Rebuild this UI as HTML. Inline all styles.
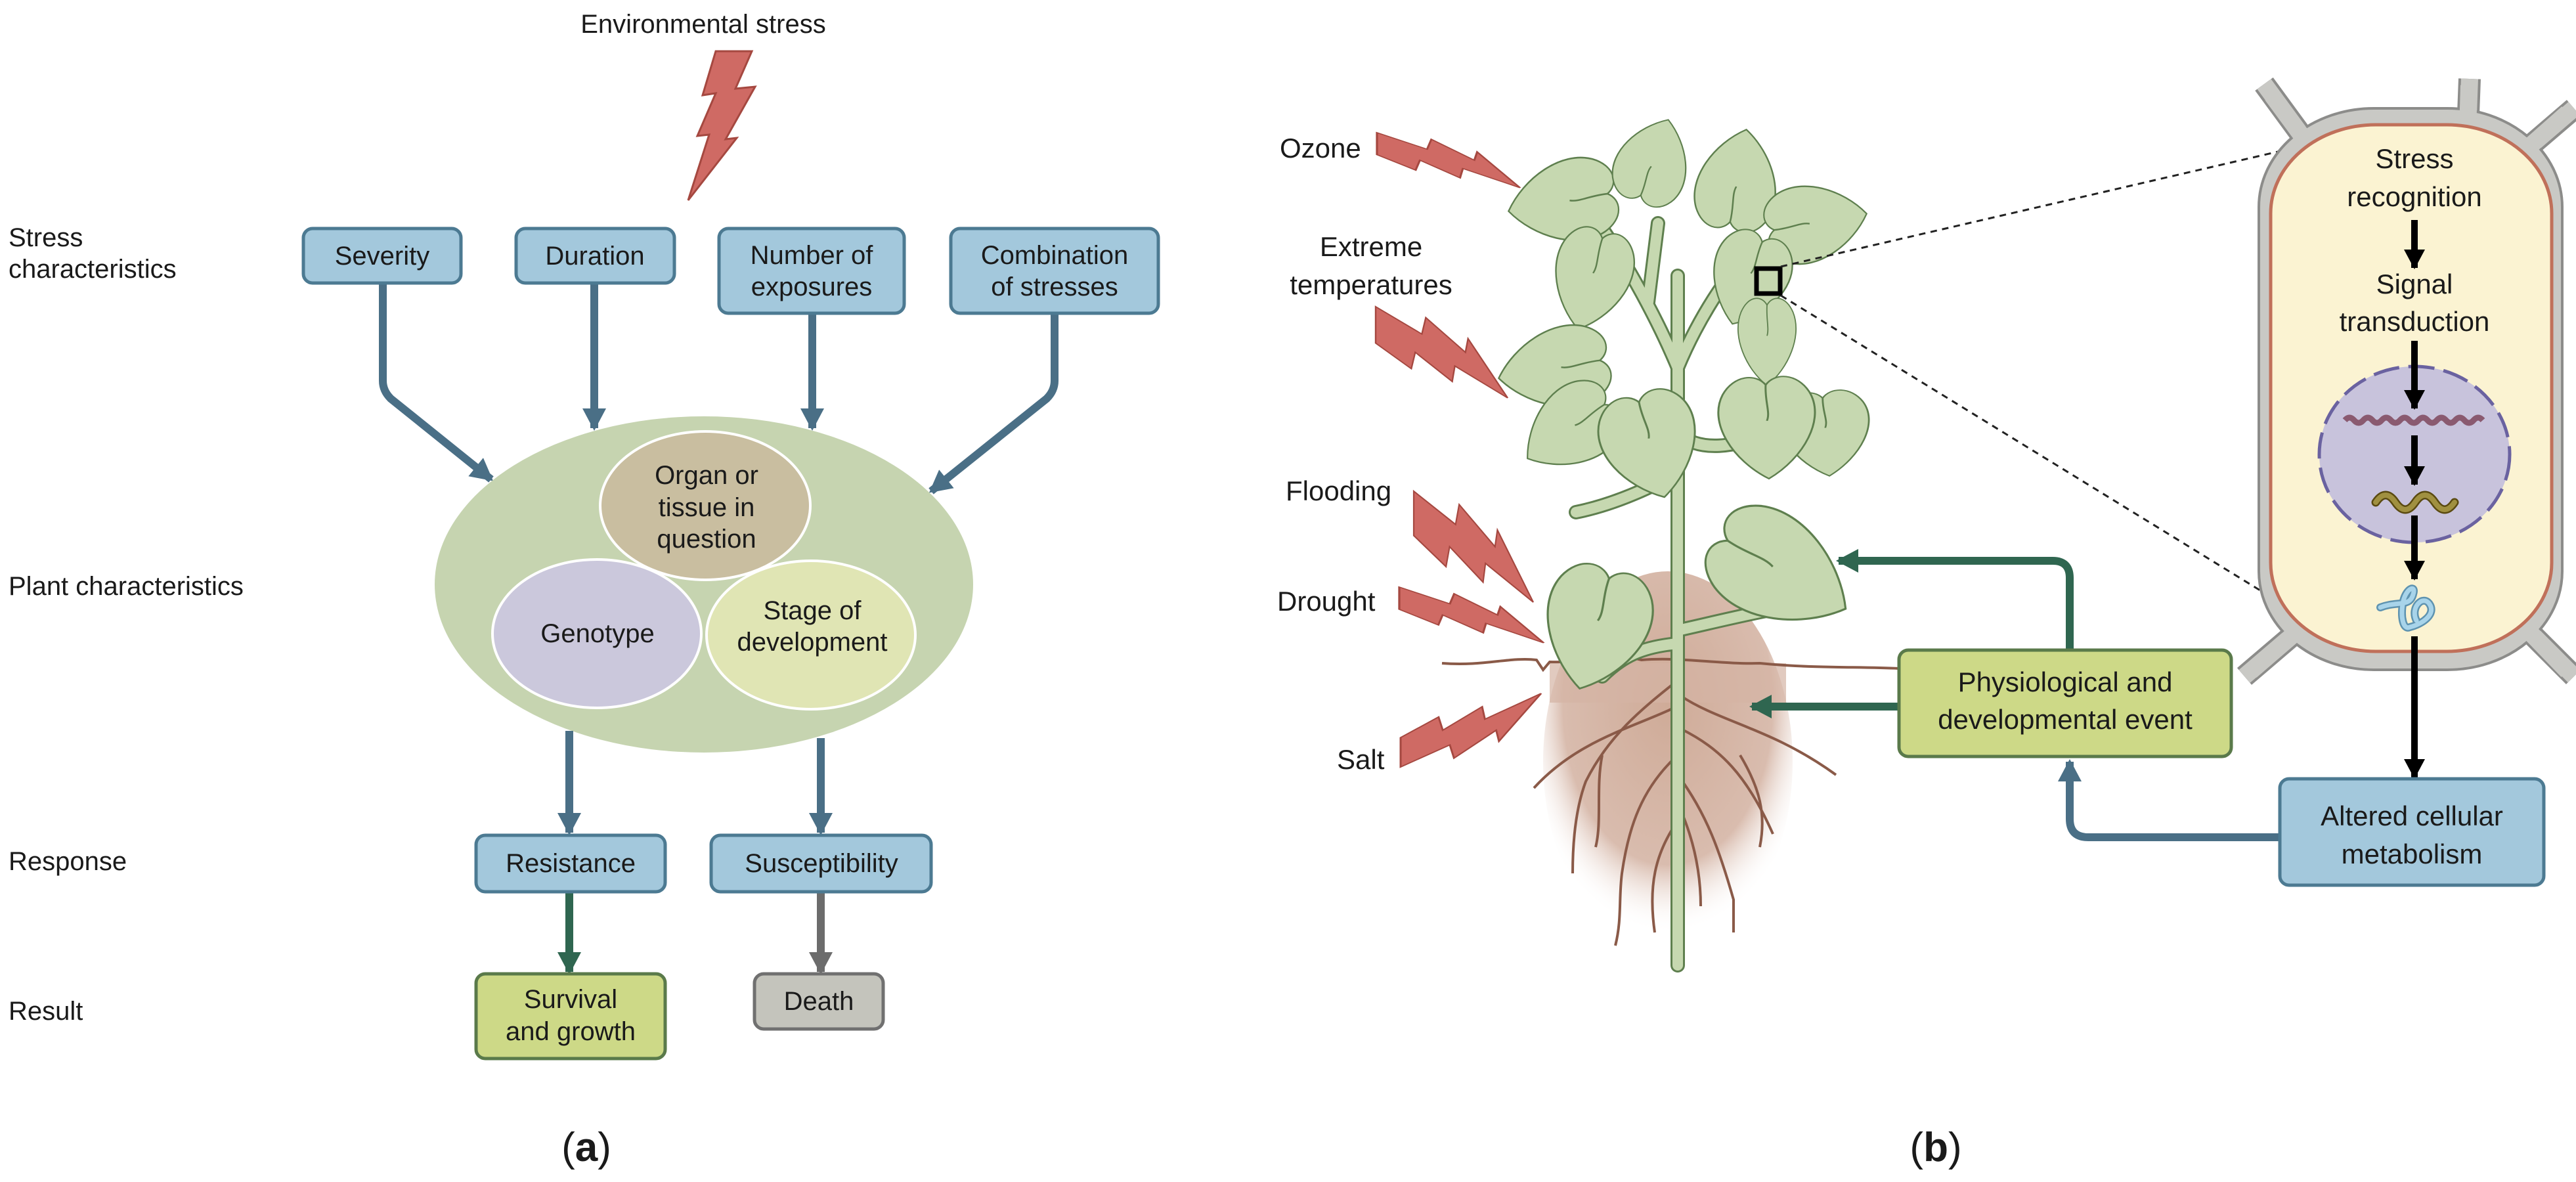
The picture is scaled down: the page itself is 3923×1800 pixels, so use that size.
<!DOCTYPE html>
<html><head><meta charset="utf-8"><style>
html,body{margin:0;padding:0;background:#fff}
svg{display:block}
text{font-family:"Liberation Sans",sans-serif;fill:#1a1a1a}
</style></head><body>
<svg width="3923" height="1800" viewBox="0 0 3923 1800" xmlns="http://www.w3.org/2000/svg">
<defs>
<marker id="ab" markerUnits="userSpaceOnUse" markerWidth="40" markerHeight="40" refX="30" refY="18" orient="auto"><path d="M0,0 L34,18 L0,36 Z" fill="#4a6f86"/></marker>
<marker id="ag" markerUnits="userSpaceOnUse" markerWidth="40" markerHeight="40" refX="30" refY="18" orient="auto"><path d="M0,0 L34,18 L0,36 Z" fill="#2f6650"/></marker>
<marker id="agr" markerUnits="userSpaceOnUse" markerWidth="40" markerHeight="40" refX="30" refY="18" orient="auto"><path d="M0,0 L34,18 L0,36 Z" fill="#6c6c6c"/></marker>
<marker id="ak" markerUnits="userSpaceOnUse" markerWidth="40" markerHeight="40" refX="28" refY="16" orient="auto"><path d="M0,0 L30,16 L0,32 Z" fill="#000"/></marker>
<path id="bolt" d="M0,0 L0.35,0.3 L0.38,0.12 L0.68,0.5 L0.7,0.35 L1,1 L0.6,0.65 L0.58,0.82 L0.3,0.5 L0.27,0.68 L0,0.4 Z"/>
<g id="leaf"><path d="M0,-1 C0.45,-0.65 0.75,0.05 0.55,0.55 C0.4,0.9 0.12,0.92 0,0.7 C-0.12,0.92 -0.4,0.9 -0.55,0.55 C-0.75,0.05 -0.45,-0.65 0,-1 Z" fill="#c6d8b0" stroke="#5e7f4e" stroke-width="0.025"/><path d="M0,0.7 C0.02,0.4 -0.05,0.2 0,0.05" fill="none" stroke="#5e7f4e" stroke-width="0.025"/></g>
<radialGradient id="soil" cx="0.5" cy="0.35" r="0.6"><stop offset="0" stop-color="#cfab98"/><stop offset="0.7" stop-color="#d9bcae"/><stop offset="1" stop-color="#fff" stop-opacity="0"/></radialGradient>
</defs>

<!-- ===== Panel (a) ===== -->
<text x="1071" y="50" font-size="40" text-anchor="middle">Environmental stress</text>
<path d="M1090,78 L1145,78 L1120,135 L1150,132 L1105,212 L1122,210 L1048,305 L1080,205 L1062,207 L1090,142 L1070,145 Z" fill="#cf6a64" stroke="#a54840" stroke-width="3"/>

<g font-size="40">
<text x="13" y="375">Stress</text>
<text x="13" y="423">characteristics</text>
<text x="13" y="906">Plant characteristics</text>
<text x="13" y="1325">Response</text>
<text x="13" y="1553">Result</text>
</g>

<g fill="none" stroke="#4a6f86" stroke-width="12">
<path d="M583,431 L583,580 Q583,595 595,607 L748,730" marker-end="url(#ab)"/>
<path d="M905,431 L905,652" marker-end="url(#ab)"/>
<path d="M1237,477 L1237,652" marker-end="url(#ab)"/>
<path d="M1606,477 L1606,580 Q1606,595 1594,607 L1418,748" marker-end="url(#ab)"/>
</g>

<g stroke="#4c7a92" stroke-width="5" fill="#a3c8dc">
<rect x="462" y="348" width="240" height="83" rx="14"/>
<rect x="786" y="348" width="241" height="83" rx="14"/>
<rect x="1095" y="348" width="282" height="129" rx="14"/>
<rect x="1448" y="348" width="316" height="129" rx="14"/>
</g>
<g font-size="40" text-anchor="middle">
<text x="582" y="403">Severity</text>
<text x="906" y="403">Duration</text>
<text x="1236" y="402">Number of</text>
<text x="1236" y="450">exposures</text>
<text x="1606" y="402">Combination</text>
<text x="1606" y="450">of stresses</text>
</g>

<ellipse cx="1072" cy="890" rx="410" ry="256" fill="#c6d4b0"/>
<ellipse cx="1074" cy="770" rx="160" ry="113" fill="#c9bea0" stroke="#fff" stroke-width="4"/>
<ellipse cx="909" cy="965" rx="159" ry="113" fill="#cbc8dc" stroke="#fff" stroke-width="4"/>
<ellipse cx="1235" cy="967" rx="159" ry="113" fill="#e0e5b4" stroke="#fff" stroke-width="4"/>
<g font-size="40" text-anchor="middle">
<text x="1076" y="737">Organ or</text>
<text x="1076" y="786">tissue in</text>
<text x="1076" y="834">question</text>
<text x="910" y="978">Genotype</text>
<text x="1237" y="943">Stage of</text>
<text x="1237" y="991">development</text>
</g>

<g fill="none" stroke-width="12">
<path d="M867,1113 L867,1268" stroke="#4a6f86" marker-end="url(#ab)"/>
<path d="M1250,1124 L1250,1268" stroke="#4a6f86" marker-end="url(#ab)"/>
<path d="M867,1358 L867,1480" stroke="#2f6650" marker-end="url(#ag)"/>
<path d="M1250,1358 L1250,1480" stroke="#6c6c6c" marker-end="url(#agr)"/>
</g>
<g stroke-width="5">
<rect x="725" y="1272" width="288" height="86" rx="14" fill="#a3c8dc" stroke="#4c7a92"/>
<rect x="1083" y="1272" width="335" height="86" rx="14" fill="#a3c8dc" stroke="#4c7a92"/>
<rect x="725" y="1483" width="288" height="129" rx="14" fill="#cdd987" stroke="#5a7a4a"/>
<rect x="1149" y="1483" width="196" height="84" rx="14" fill="#c4c4bc" stroke="#707070"/>
</g>
<g font-size="40" text-anchor="middle">
<text x="869" y="1328">Resistance</text>
<text x="1251" y="1328">Susceptibility</text>
<text x="869" y="1535">Survival</text>
<text x="869" y="1584">and growth</text>
<text x="1247" y="1538">Death</text>
</g>
<text x="893" y="1768" font-size="62" font-family="Liberation Serif,serif" text-anchor="middle">(<tspan font-weight="bold">a</tspan>)</text>

<!-- ===== Panel (b) ===== -->
<g font-size="42">
<text x="1949" y="240">Ozone</text>
<text x="2088" y="390" text-anchor="middle">Extreme</text>
<text x="2088" y="448" text-anchor="middle">temperatures</text>
<text x="1958" y="762">Flooding</text>
<text x="1945" y="930">Drought</text>
<text x="2036" y="1171">Salt</text>
</g>
<g fill="#cf6a64" stroke="#a54840">
<use href="#bolt" transform="translate(2097,202) scale(218,84)" stroke-width="0.015"/>
<use href="#bolt" transform="translate(2095,467) scale(201,139)" stroke-width="0.012"/>
<use href="#bolt" transform="translate(2153,748) scale(182,169)" stroke-width="0.012"/>
<use href="#bolt" transform="translate(2131,894) scale(220,85)" stroke-width="0.015"/>
<use href="#bolt" transform="translate(2133,1168) scale(214,-112)" stroke-width="0.014"/>
</g>

<ellipse cx="2540" cy="1160" rx="190" ry="290" fill="url(#soil)"/>
<rect x="2360" y="1010" width="360" height="60" fill="#d4b4a4" opacity="0.7"/>
<path d="M2196,1010 C2260,1015 2300,1000 2340,1005 L2350,1020 L2360,1008 C2420,1010 2460,995 2500,1005 C2560,1000 2620,1012 2680,1010 C2760,1018 2830,1015 2892,1018" fill="none" stroke="#8a5a48" stroke-width="4"/>
<g fill="none" stroke="#8a5a48" stroke-width="4">
<path d="M2555,1010 L2555,1475"/>
<path d="M2550,1040 C2500,1080 2450,1120 2415,1190 C2400,1230 2395,1280 2395,1330"/>
<path d="M2545,1080 C2480,1110 2400,1130 2336,1200"/>
<path d="M2560,1060 C2620,1100 2700,1110 2796,1180"/>
<path d="M2560,1110 C2620,1140 2660,1180 2700,1270"/>
<path d="M2555,1150 C2500,1200 2480,1260 2470,1330 C2465,1370 2470,1400 2460,1440"/>
<path d="M2555,1180 C2600,1240 2620,1300 2640,1370 L2640,1420"/>
<path d="M2555,1250 C2520,1300 2510,1350 2520,1420"/>
<path d="M2558,1230 C2580,1280 2590,1330 2590,1380"/>
<path d="M2440,1150 C2430,1200 2440,1250 2430,1290"/>
<path d="M2650,1150 C2680,1200 2690,1240 2680,1290"/>
</g>

<g fill="none" stroke="#5e7f4e" stroke-width="22" stroke-linecap="round">
<path d="M2555,1470 L2555,420"/>
<path d="M2555,560 C2530,500 2480,400 2420,320"/>
<path d="M2555,560 C2580,500 2620,430 2660,390"/>
<path d="M2555,660 C2590,690 2640,680 2700,660"/>
<path d="M2555,720 C2500,750 2450,770 2400,780"/>
<path d="M2555,980 C2500,985 2470,1000 2440,1030"/>
<path d="M2555,960 C2600,950 2640,940 2690,930"/>
<path d="M2510,460 L2525,340"/>
</g>
<g fill="none" stroke="#c6d8b0" stroke-width="16" stroke-linecap="round">
<path d="M2555,1470 L2555,420"/>
<path d="M2555,560 C2530,500 2480,400 2420,320"/>
<path d="M2555,560 C2580,500 2620,430 2660,390"/>
<path d="M2555,660 C2590,690 2640,680 2700,660"/>
<path d="M2555,720 C2500,750 2450,770 2400,780"/>
<path d="M2555,980 C2500,985 2470,1000 2440,1030"/>
<path d="M2555,960 C2600,950 2640,940 2690,930"/>
<path d="M2510,460 L2525,340"/>
</g>

<use href="#leaf" transform="translate(2386,306) rotate(-100) scale(102,90)"/>
<use href="#leaf" transform="translate(2425,420) rotate(195) scale(96,84)"/>
<use href="#leaf" transform="translate(2516,250) rotate(20) scale(90,72)"/>
<use href="#leaf" transform="translate(2645,280) rotate(10) scale(100,84)"/>
<use href="#leaf" transform="translate(2760,340) rotate(80) scale(96,84)"/>
<use href="#leaf" transform="translate(2665,420) rotate(200) scale(96,78)"/>
<use href="#leaf" transform="translate(2691,515) rotate(180) scale(72,72)"/>
<use href="#leaf" transform="translate(2373,560) rotate(260) scale(100,92)"/>
<use href="#leaf" transform="translate(2395,650) rotate(235) scale(96,84)"/>
<use href="#leaf" transform="translate(2512,672) rotate(165) scale(120,88)"/>
<use href="#leaf" transform="translate(2780,655) rotate(175) scale(110,70)"/>
<use href="#leaf" transform="translate(2691,645) rotate(178) scale(120,84)"/>
<use href="#leaf" transform="translate(2432,950) rotate(195) scale(130,102)"/>
<use href="#leaf" transform="translate(2705,866) rotate(120) scale(130,122)"/>

<rect x="2675" y="409" width="36" height="38" fill="none" stroke="#000" stroke-width="7"/>
<g stroke="#222" stroke-width="3" stroke-dasharray="10,8">
<line x1="2712" y1="406" x2="3469" y2="231"/>
<line x1="2712" y1="450" x2="3463" y2="912"/>
</g>

<!-- cell -->
<g stroke="#8c8c8a" stroke-width="34" stroke-linecap="butt">
<line x1="3448" y1="128" x2="3530" y2="240"/>
<line x1="3761" y1="120" x2="3758" y2="200"/>
<line x1="3920" y1="165" x2="3850" y2="225"/>
<line x1="3418" y1="1030" x2="3500" y2="960"/>
<line x1="3920" y1="1030" x2="3850" y2="960"/>
</g>
<g stroke="#c9c9c5" stroke-width="26">
<line x1="3448" y1="128" x2="3530" y2="240"/>
<line x1="3761" y1="120" x2="3758" y2="200"/>
<line x1="3920" y1="165" x2="3850" y2="225"/>
<line x1="3418" y1="1030" x2="3500" y2="960"/>
<line x1="3920" y1="1030" x2="3850" y2="960"/>
</g>
<rect x="3440" y="165" width="462" height="855" rx="175" ry="150" fill="#c9c9c5" stroke="#8c8c8a" stroke-width="4"/>
<g stroke="#c9c9c5" stroke-width="26">
<line x1="3460" y1="145" x2="3530" y2="240"/>
<line x1="3760" y1="130" x2="3758" y2="200"/>
<line x1="3910" y1="172" x2="3850" y2="225"/>
<line x1="3428" y1="1022" x2="3500" y2="960"/>
<line x1="3910" y1="1022" x2="3850" y2="960"/>
</g>
<rect x="3458" y="190" width="428" height="802" rx="160" ry="135" fill="#fbf3d2" stroke="#c0705a" stroke-width="5"/>
<g font-size="42" text-anchor="middle">
<text x="3677" y="256">Stress</text>
<text x="3677" y="314">recognition</text>
<text x="3677" y="447">Signal</text>
<text x="3677" y="504">transduction</text>
</g>
<ellipse cx="3677" cy="692" rx="145" ry="134" fill="#c8c3dc" stroke="#6a62a0" stroke-width="5" stroke-dasharray="40,14"/>
<path d="M3571,640 q7,-8 14,0 t14,0 t14,0 t14,0 t14,0 t14,0 t14,0 t14,0 t14,0 t14,0 t14,0 t14,0 t14,0 t14,0 t14,0" fill="none" stroke="#8a5a70" stroke-width="9"/>
<path d="M3618,765 q15,-22 30,0 t30,0 t30,0 t30,0" fill="none" stroke="#5a4a10" stroke-width="13" stroke-linecap="round"/>
<path d="M3618,765 q15,-22 30,0 t30,0 t30,0 t30,0" fill="none" stroke="#a09040" stroke-width="8" stroke-linecap="round"/>
<path d="M3625,925 C3650,915 3670,925 3675,905 C3680,890 3665,895 3660,915 C3655,940 3660,960 3670,955 C3690,950 3710,935 3700,920 C3690,905 3670,925 3680,945" fill="none" stroke="#5e93b0" stroke-width="12" stroke-linecap="round"/>
<path d="M3625,925 C3650,915 3670,925 3675,905 C3680,890 3665,895 3660,915 C3655,940 3660,960 3670,955 C3690,950 3710,935 3700,920 C3690,905 3670,925 3680,945" fill="none" stroke="#a8d4ea" stroke-width="7" stroke-linecap="round"/>
<g stroke="#000" stroke-width="10" fill="none">
<path d="M3677,335 L3677,408" marker-end="url(#ak)"/>
<path d="M3677,519 L3677,622" marker-end="url(#ak)"/>
<path d="M3677,663 L3677,738" marker-end="url(#ak)"/>
<path d="M3677,785 L3677,882" marker-end="url(#ak)"/>
<path d="M3677,969 L3677,1184" marker-end="url(#ak)"/>
</g>

<g fill="none" stroke-width="12">
<path d="M3152,990 L3152,880 Q3152,854 3126,854 L2800,854" stroke="#2f6650" marker-end="url(#ag)"/>
<path d="M2892,1076 L2668,1076" stroke="#2f6650" marker-end="url(#ag)"/>
<path d="M3472,1275 L3180,1275 Q3152,1275 3152,1247 L3152,1160" stroke="#4a6f86" marker-end="url(#ab)"/>
</g>
<rect x="2892" y="990" width="506" height="162" rx="14" fill="#cdd987" stroke="#5a7a4a" stroke-width="5"/>
<rect x="3472" y="1186" width="402" height="162" rx="14" fill="#a3c8dc" stroke="#4c7a92" stroke-width="5"/>
<g font-size="42" text-anchor="middle">
<text x="3145" y="1053">Physiological and</text>
<text x="3145" y="1110">developmental event</text>
<text x="3673" y="1257">Altered cellular</text>
<text x="3673" y="1315">metabolism</text>
</g>
<text x="2948" y="1768" font-size="62" font-family="Liberation Serif,serif" text-anchor="middle">(<tspan font-weight="bold">b</tspan>)</text>
</svg>
</body></html>
